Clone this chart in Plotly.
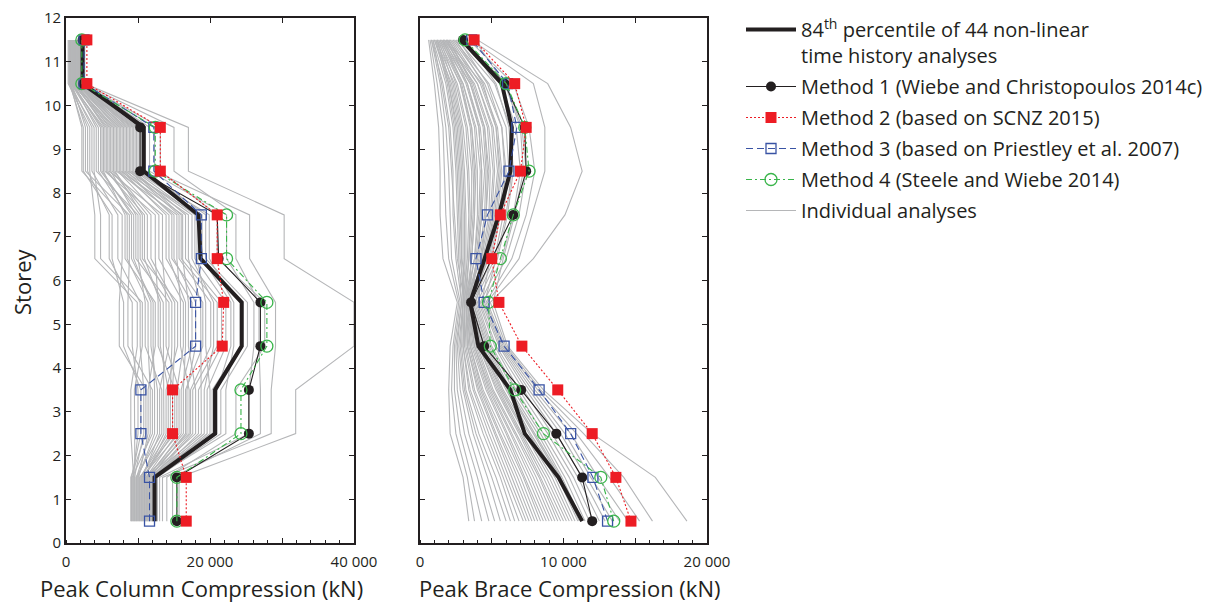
import plotly.graph_objects as go

# ---------------- data ----------------
storeys = [0.5, 1.5, 2.5, 3.5, 4.5, 5.5, 6.5, 7.5, 8.5, 9.5, 10.5, 11.5]

# Peak column compression (thousand kN), storey 0.5 -> 11.5
col_p84 = [12.3, 12.3, 20.7, 20.7, 24.4, 24.4, 18.7, 18.4, 10.8, 10.8, 2.3, 2.3]
col_m1 = [15.4, 15.4, 25.4, 25.4, 27.0, 27.0, 21.2, 21.0, 10.3, 10.3, 2.4, 2.3]
col_m2 = [16.7, 16.7, 14.8, 14.8, 21.7, 21.9, 21.0, 21.0, 13.1, 13.1, 2.9, 2.9]
col_m3 = [11.6, 11.6, 10.4, 10.4, 18.0, 18.0, 18.8, 18.8, 12.2, 12.2, 2.5, 2.5]
col_m4 = [15.4, 15.4, 24.3, 24.3, 27.9, 27.9, 22.3, 22.3, 12.4, 12.4, 2.2, 2.2]

col_individual = [
    [9.1, 9.1, 10.4, 10.4, 8.0, 8.0, 6.4, 6.4, 2.4, 2.4, 0.5, 0.5],
    [9.4, 9.4, 9.0, 9.0, 9.9, 9.9, 4.0, 4.0, 3.3, 3.3, 0.3, 0.3],
    [9.0, 9.0, 11.1, 11.1, 7.4, 7.4, 7.8, 7.8, 2.2, 2.2, 0.6, 0.6],
    [9.6, 9.6, 9.5, 9.5, 10.6, 10.6, 4.8, 4.8, 3.9, 3.9, 0.4, 0.4],
    [9.2, 9.2, 12.0, 12.0, 8.6, 8.6, 8.8, 8.8, 2.7, 2.7, 0.8, 0.8],
    [9.3, 9.3, 10.0, 10.0, 9.2, 9.2, 6.0, 6.0, 3.0, 3.0, 0.5, 0.5],
    [9.9, 9.9, 12.7, 12.7, 11.8, 11.8, 9.4, 9.4, 4.8, 4.8, 0.9, 0.9],
    [9.5, 9.5, 10.8, 10.8, 10.3, 10.3, 7.2, 7.2, 3.6, 3.6, 0.6, 0.6],
    [10.1, 10.1, 11.4, 11.4, 12.4, 12.4, 8.2, 8.2, 5.2, 5.2, 0.7, 0.7],
    [9.7, 9.7, 13.3, 13.3, 11.0, 11.0, 10.0, 10.0, 4.2, 4.2, 1.0, 1.0],
    [9.8, 9.8, 11.7, 11.7, 11.4, 11.4, 8.5, 8.5, 4.5, 4.5, 0.7, 0.7],
    [10.3, 10.3, 14.2, 14.2, 13.1, 13.1, 10.9, 10.9, 5.6, 5.6, 1.1, 1.1],
    [10.0, 10.0, 12.3, 12.3, 12.1, 12.1, 9.1, 9.1, 5.0, 5.0, 0.8, 0.8],
    [10.6, 10.6, 13.0, 13.0, 14.3, 14.3, 9.7, 9.7, 6.2, 6.2, 0.9, 0.9],
    [10.2, 10.2, 15.1, 15.1, 12.8, 12.8, 12.4, 12.4, 5.4, 5.4, 1.3, 1.3],
    [10.4, 10.4, 13.6, 13.6, 13.5, 13.5, 10.3, 10.3, 5.8, 5.8, 1.0, 1.0],
    [10.9, 10.9, 13.9, 13.9, 15.5, 15.5, 10.6, 10.6, 6.8, 6.8, 1.1, 1.1],
    [10.5, 10.5, 15.7, 15.7, 13.9, 13.9, 13.4, 13.4, 6.0, 6.0, 1.4, 1.4],
    [10.7, 10.7, 14.5, 14.5, 14.7, 14.7, 11.3, 11.3, 6.4, 6.4, 1.2, 1.2],
    [11.2, 11.2, 16.3, 16.3, 16.6, 16.6, 14.3, 14.3, 7.4, 7.4, 1.5, 1.5],
    [10.8, 10.8, 14.8, 14.8, 15.1, 15.1, 11.8, 11.8, 6.6, 6.6, 1.2, 1.2],
    [11.1, 11.1, 15.4, 15.4, 16.3, 16.3, 12.9, 12.9, 7.2, 7.2, 1.3, 1.3],
    [11.0, 11.0, 17.1, 17.1, 15.9, 15.9, 15.4, 15.4, 7.0, 7.0, 1.6, 1.6],
    [11.4, 11.4, 16.0, 16.0, 17.5, 17.5, 13.9, 13.9, 7.8, 7.8, 1.4, 1.4],
    [11.7, 11.7, 16.6, 16.6, 19.0, 19.0, 14.7, 14.7, 8.4, 8.4, 1.5, 1.5],
    [11.3, 11.3, 18.0, 18.0, 17.0, 17.0, 16.2, 16.2, 7.6, 7.6, 1.8, 1.8],
    [11.5, 11.5, 16.8, 16.8, 18.0, 18.0, 15.0, 15.0, 8.0, 8.0, 1.6, 1.6],
    [11.9, 11.9, 17.3, 17.3, 20.1, 20.1, 15.7, 15.7, 8.8, 8.8, 1.7, 1.7],
    [11.6, 11.6, 18.8, 18.8, 18.7, 18.7, 17.0, 17.0, 8.2, 8.2, 1.9, 1.9],
    [12.1, 12.1, 17.6, 17.6, 21.0, 21.0, 16.0, 16.0, 9.2, 9.2, 1.7, 1.7],
    [11.8, 11.8, 20.0, 20.0, 19.4, 19.4, 18.2, 18.2, 8.6, 8.6, 2.0, 2.0],
    [12.2, 12.2, 18.4, 18.4, 21.6, 21.6, 16.6, 16.6, 9.4, 9.4, 1.8, 1.8],
    [12.0, 12.0, 19.2, 19.2, 20.5, 20.5, 17.5, 17.5, 9.0, 9.0, 1.9, 1.9],
    [12.3, 12.3, 21.0, 21.0, 22.9, 22.9, 18.9, 18.9, 9.8, 9.8, 2.2, 2.2],
    [12.3, 12.3, 19.6, 19.6, 22.2, 22.2, 17.9, 17.9, 9.6, 9.6, 2.0, 2.0],
    [12.6, 12.6, 20.6, 20.6, 24.6, 24.6, 18.6, 18.6, 10.5, 10.5, 2.1, 2.1],
    [12.4, 12.4, 22.2, 22.2, 23.3, 23.3, 19.9, 19.9, 10.0, 10.0, 2.3, 2.3],
    [12.5, 12.5, 20.3, 20.3, 24.3, 24.3, 18.4, 18.4, 10.2, 10.2, 2.1, 2.1],
    [13.0, 13.0, 25.4, 25.4, 26.1, 26.1, 22.3, 22.3, 11.6, 11.6, 2.4, 2.4],
    [12.7, 12.7, 21.5, 21.5, 25.2, 25.2, 19.4, 19.4, 11.0, 11.0, 2.2, 2.2],
    [14.0, 14.0, 23.6, 23.6, 27.6, 27.6, 21.0, 21.0, 13.1, 13.1, 2.3, 2.3],
    [13.4, 13.4, 28.5, 28.5, 29.1, 29.1, 25.5, 25.5, 12.3, 12.3, 2.5, 2.5],
    [14.8, 14.8, 27.0, 27.0, 26.8, 26.8, 23.6, 23.6, 15.0, 15.0, 2.4, 2.4],
    [15.7, 15.7, 31.9, 31.9, 40.0, 40.0, 30.3, 30.3, 17.0, 17.0, 2.6, 2.6],
]

# Peak brace compression (thousand kN), storey 0.5 -> 11.5
br_p84 = [11.3, 9.65, 7.3, 6.3, 4.07, 3.5, 4.5, 5.5, 6.3, 6.4, 5.7, 2.9]
br_m1 = [12.0, 11.3, 9.5, 7.05, 4.47, 3.56, 5.0, 6.5, 7.4, 7.3, 5.9, 3.0]
br_m2 = [14.7, 13.65, 12.0, 9.6, 7.1, 5.5, 5.0, 5.6, 7.0, 7.4, 6.6, 3.77]
br_m3 = [13.07, 12.05, 10.5, 8.3, 5.86, 4.47, 3.9, 4.7, 6.2, 6.75, 6.1, 3.6]
br_m4 = [13.5, 12.6, 8.6, 6.6, 4.9, 4.77, 5.6, 6.5, 7.6, 7.3, 6.0, 3.14]

br_individual = [
    [3.4, 3.0, 2.1, 2.0, 2.1, 2.6, 1.6, 1.4, 1.4, 1.3, 1.0, 0.6],
    [3.8, 3.3, 2.5, 2.2, 2.3, 2.7, 2.0, 1.8, 1.7, 1.6, 1.2, 0.7],
    [4.3, 3.6, 2.8, 2.4, 2.4, 2.8, 2.2, 2.1, 2.0, 1.8, 1.4, 0.8],
    [4.8, 4.0, 3.1, 2.6, 2.5, 2.9, 2.5, 2.3, 2.3, 2.1, 1.6, 0.8],
    [5.2, 4.3, 3.4, 2.8, 2.6, 2.9, 2.7, 2.6, 2.5, 2.3, 1.8, 0.9],
    [5.6, 4.7, 3.7, 3.0, 2.7, 3.0, 2.9, 2.9, 2.8, 2.6, 2.0, 1.0],
    [6.0, 5.0, 3.9, 3.1, 2.8, 3.0, 3.1, 3.1, 3.0, 2.8, 2.2, 1.0],
    [6.3, 5.3, 4.1, 3.2, 2.9, 3.0, 3.3, 3.4, 3.3, 3.0, 2.4, 1.1],
    [6.6, 5.6, 4.4, 3.4, 3.0, 3.1, 2.6, 2.4, 2.2, 2.0, 1.5, 0.9],
    [6.9, 5.8, 4.6, 3.5, 3.0, 3.1, 2.8, 2.7, 2.6, 2.4, 1.9, 1.1],
    [7.2, 6.0, 4.8, 3.7, 3.1, 3.1, 3.4, 3.6, 3.6, 3.3, 2.6, 1.2],
    [7.4, 6.2, 5.0, 3.8, 3.2, 3.1, 3.0, 3.0, 2.9, 2.7, 2.1, 1.2],
    [7.6, 6.4, 5.2, 4.0, 3.3, 3.2, 3.6, 3.8, 3.9, 3.6, 2.8, 1.3],
    [7.8, 6.6, 5.3, 4.1, 3.3, 3.2, 3.2, 3.2, 3.1, 2.9, 2.3, 1.3],
    [8.0, 6.8, 5.5, 4.2, 3.4, 3.2, 3.8, 4.1, 4.2, 3.9, 3.0, 1.4],
    [8.2, 7.0, 5.6, 4.3, 3.5, 3.2, 3.4, 3.5, 3.4, 3.2, 2.5, 1.4],
    [8.4, 7.2, 5.8, 4.4, 3.5, 3.3, 4.0, 4.3, 4.5, 4.2, 3.3, 1.5],
    [8.6, 7.3, 6.0, 4.6, 3.6, 3.3, 3.6, 3.8, 3.7, 3.5, 2.8, 1.5],
    [8.8, 7.5, 6.1, 4.7, 3.7, 3.3, 4.2, 4.6, 4.8, 4.5, 3.5, 1.6],
    [9.0, 7.7, 6.3, 4.8, 3.8, 3.3, 3.8, 4.0, 4.0, 3.8, 3.0, 1.6],
    [9.2, 7.9, 6.4, 4.9, 3.8, 3.4, 4.4, 4.9, 5.1, 4.8, 3.8, 1.7],
    [9.4, 8.1, 6.6, 5.0, 3.9, 3.4, 4.0, 4.3, 4.3, 4.1, 3.2, 1.7],
    [9.6, 8.3, 6.7, 5.1, 4.0, 3.4, 4.6, 5.1, 5.4, 5.1, 4.0, 1.8],
    [9.8, 8.4, 6.9, 5.3, 4.1, 3.4, 4.1, 4.5, 4.6, 4.4, 3.5, 1.8],
    [10.0, 8.6, 7.0, 5.4, 4.1, 3.5, 4.8, 5.4, 5.7, 5.4, 4.3, 1.9],
    [10.2, 8.8, 7.1, 5.5, 4.2, 3.5, 4.3, 4.8, 4.9, 4.7, 3.7, 2.0],
    [10.4, 9.0, 7.3, 5.6, 4.3, 3.5, 2.9, 2.8, 2.7, 2.5, 2.0, 1.2],
    [10.6, 9.2, 7.4, 5.7, 4.3, 3.6, 4.5, 5.0, 5.2, 5.0, 4.0, 2.1],
    [10.8, 9.4, 7.6, 5.8, 4.4, 3.6, 3.5, 3.7, 3.8, 3.6, 2.9, 1.6],
    [11.0, 9.6, 7.7, 6.0, 4.5, 3.6, 4.7, 5.3, 5.6, 5.3, 4.2, 2.2],
    [11.1, 9.7, 7.9, 6.1, 4.6, 3.7, 5.0, 5.6, 6.0, 5.7, 4.5, 2.3],
    [11.2, 9.8, 8.0, 6.2, 4.7, 3.7, 3.9, 4.2, 4.3, 4.1, 3.3, 1.9],
    [11.3, 9.9, 8.2, 6.3, 4.8, 3.8, 5.2, 5.8, 6.2, 6.0, 4.8, 2.4],
    [11.5, 10.1, 8.4, 6.5, 4.9, 3.9, 4.6, 5.2, 5.5, 5.3, 4.4, 2.5],
    [11.8, 10.4, 8.6, 6.7, 5.0, 4.0, 5.4, 6.1, 6.5, 6.3, 5.2, 2.6],
    [12.1, 10.7, 8.9, 6.9, 5.2, 4.1, 4.3, 4.6, 4.7, 4.5, 3.6, 2.0],
    [12.5, 11.0, 9.2, 7.2, 5.3, 4.2, 5.7, 6.5, 7.0, 6.7, 5.6, 2.8],
    [12.9, 11.3, 9.5, 7.4, 5.5, 4.3, 4.9, 5.5, 5.9, 5.7, 4.7, 2.7],
    [13.4, 11.6, 9.8, 7.6, 5.6, 4.4, 6.0, 6.9, 7.4, 7.1, 6.0, 3.0],
    [13.9, 11.9, 10.1, 7.8, 5.7, 4.5, 5.3, 6.0, 6.4, 6.2, 5.3, 3.2],
    [14.5, 12.4, 10.5, 8.0, 5.8, 4.6, 6.4, 7.4, 8.0, 7.6, 6.5, 3.4],
    [15.3, 13.2, 10.9, 8.2, 5.9, 4.7, 6.9, 7.8, 8.7, 8.7, 7.9, 3.6],
    [16.2, 14.2, 11.4, 8.4, 6.0, 4.9, 7.9, 10.1, 11.3, 10.5, 8.9, 4.0],
    [18.6, 16.4, 12.0, 8.6, 6.1, 5.1, 5.8, 6.6, 7.2, 7.0, 5.9, 3.8],
]

col_label_ticks = [0, 20, 40]
col_label_text = ["0", "20 000", "40 000"]
col_major_ticks = [0, 10, 20, 30, 40]
br_label_ticks = [0, 10, 20]
br_label_text = ["0", "10 000", "20 000"]
br_major_ticks = [0, 5, 10, 15, 20]
y_ticks = list(range(0, 13))

legend_names = {
    "p84": "84<sup>th</sup> percentile of 44 non-linear<br>time history analyses",
    "m1": "Method 1 (Wiebe and Christopoulos 2014c)",
    "m2": "Method 2 (based on SCNZ 2015)",
    "m3": "Method 3 (based on Priestley et al. 2007)",
    "m4": "Method 4 (Steele and Wiebe 2014)",
    "ind": "Individual analyses",
}

# ---------------- styles ----------------
INK = "#231f20"
GREY = "#b5b6b8"
RED = "#ed1c24"
BLUE = "#3953a4"
GREEN = "#39b54a"
FONT = "Open Sans"

fig = go.Figure()


def add_panel(xa, ya, individual, p84, m1, m2, m3, m4, show):
    for i, row in enumerate(individual):
        fig.add_trace(go.Scatter(
            x=row, y=storeys, xaxis=xa, yaxis=ya, mode="lines",
            line=dict(color=GREY, width=1.1), name=legend_names["ind"],
            legendgroup="ind", showlegend=(show and i == 0), legendrank=60,
            hoverinfo="skip"))
    fig.add_trace(go.Scatter(
        x=p84, y=storeys, xaxis=xa, yaxis=ya, mode="lines",
        line=dict(color=INK, width=4), name=legend_names["p84"],
        legendgroup="p84", showlegend=show, legendrank=10))
    fig.add_trace(go.Scatter(
        x=m1, y=storeys, xaxis=xa, yaxis=ya, mode="lines+markers",
        line=dict(color=INK, width=1.1),
        marker=dict(symbol="circle", size=10, color=INK),
        name=legend_names["m1"], legendgroup="m1", showlegend=show, legendrank=20))
    fig.add_trace(go.Scatter(
        x=m3, y=storeys, xaxis=xa, yaxis=ya, mode="lines+markers",
        line=dict(color=BLUE, width=1.1, dash="7px,4px"),
        marker=dict(symbol="square-open", size=10, color=BLUE, line=dict(width=1.3)),
        name=legend_names["m3"], legendgroup="m3", showlegend=show, legendrank=40))
    fig.add_trace(go.Scatter(
        x=m4, y=storeys, xaxis=xa, yaxis=ya, mode="lines+markers",
        line=dict(color=GREEN, width=1.1, dash="6px,3px,2px,3px"),
        marker=dict(symbol="circle-open", size=12, color=GREEN, line=dict(width=1.3)),
        name=legend_names["m4"], legendgroup="m4", showlegend=show, legendrank=50))
    fig.add_trace(go.Scatter(
        x=m2, y=storeys, xaxis=xa, yaxis=ya, mode="lines+markers",
        line=dict(color=RED, width=1.1, dash="2px,2px"),
        marker=dict(symbol="square", size=11, color=RED),
        name=legend_names["m2"], legendgroup="m2", showlegend=show, legendrank=30))


add_panel("x", "y", col_individual, col_p84, col_m1, col_m2, col_m3, col_m4, True)
add_panel("x2", "y2", br_individual, br_p84, br_m1, br_m2, br_m3, br_m4, False)

# empty traces to anchor the overlay axes that carry the major ticks
for xa, ya in [("x3", "y"), ("x4", "y2")]:
    fig.add_trace(go.Scatter(x=[], y=[], xaxis=xa, yaxis=ya, showlegend=False,
                             hoverinfo="skip"))

W, H = 1217, 603
OFF = 8  # page body margin in the browser


def fx(px):
    return (px - OFF) / W


def fy(py):
    return 1 - (py - OFF) / H


L1, R1 = fx(66), fx(354)
L2, R2 = fx(420), fx(707)
B, T = fy(543), fy(18)

tickfont = dict(family=FONT, size=15, color=INK)
main_x = dict(showline=True, linecolor=INK, linewidth=1.6, mirror=True,
              ticks="", showgrid=False, zeroline=False, tickfont=tickfont,
              automargin=False, ticklabelstandoff=4, ticklabeloverflow="allow")
major_x = dict(side="bottom", showticklabels=False, ticks="inside", ticklen=5,
               tickwidth=1.3, tickcolor=INK, mirror="ticks", showline=False,
               showgrid=False, zeroline=False)
common_y = dict(showline=True, linecolor=INK, linewidth=1.6, mirror="ticks",
                ticks="inside", ticklen=5, tickwidth=1.3, tickcolor=INK,
                showgrid=False, zeroline=False, tickfont=tickfont, automargin=False,
                ticklabeloverflow="allow",
                range=[0, 12], tickvals=y_ticks, domain=[B, T])

fig.update_layout(
    width=W, height=H,
    margin=dict(l=0, r=0, t=0, b=0),
    paper_bgcolor="white", plot_bgcolor="white",
    font=dict(family=FONT, color=INK),
    xaxis=dict(main_x, domain=[L1, R1], range=[0, 40], anchor="y",
               tickvals=col_label_ticks, ticktext=col_label_text,
               minor=dict(dtick=2, ticks="inside", ticklen=3, tickwidth=1, tickcolor=INK)),
    xaxis2=dict(main_x, domain=[L2, R2], range=[0, 20], anchor="y2",
                tickvals=br_label_ticks, ticktext=br_label_text,
                minor=dict(dtick=1, ticks="inside", ticklen=3, tickwidth=1, tickcolor=INK)),
    xaxis3=dict(major_x, overlaying="x", range=[0, 40], anchor="y",
                tickvals=col_major_ticks),
    xaxis4=dict(major_x, overlaying="x2", range=[0, 20], anchor="y2",
                tickvals=br_major_ticks),
    yaxis=dict(common_y, anchor="x"),
    yaxis2=dict(common_y, anchor="x2", showticklabels=False),
    legend=dict(x=fx(741), y=fy(10), xanchor="left", yanchor="top",
                font=dict(family=FONT, size=20, color=INK), valign="top",
                bgcolor="rgba(0,0,0,0)", itemwidth=50, tracegroupgap=2,
                traceorder="grouped"),
    showlegend=True,
)

fig.add_annotation(text="Peak Column Compression (kN)", xref="paper", yref="paper",
                   x=fx(201), y=fy(588), xanchor="center", yanchor="middle",
                   showarrow=False, font=dict(family=FONT, size=22, color=INK))
fig.add_annotation(text="Peak Brace Compression (kN)", xref="paper", yref="paper",
                   x=fx(569), y=fy(588), xanchor="center", yanchor="middle",
                   showarrow=False, font=dict(family=FONT, size=22, color=INK))
fig.add_annotation(text="Storey", xref="paper", yref="paper", textangle=-90,
                   x=fx(22), y=fy(282), xanchor="center", yanchor="middle",
                   showarrow=False, font=dict(family=FONT, size=22, color=INK))

fig.write_html("out.html")
